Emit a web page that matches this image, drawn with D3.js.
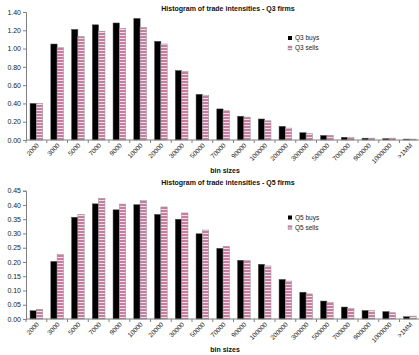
<!DOCTYPE html>
<html>
<head>
<meta charset="utf-8">
<script src="https://cdn.jsdelivr.net/npm/d3@7/dist/d3.min.js"></script>
<style>
  html, body { margin: 0; padding: 0; background: #fff; }
  svg { display: block; font-family: "Liberation Sans", Arial, sans-serif; }
</style>
</head>
<body>
<svg id="chart" width="419" height="355"></svg>
<script>
const categories = ["2000","3000","5000","7000","9000","10000","20000","30000","50000","70000","90000","100000","200000","300000","500000","700000","900000","1000000",">1MM"];
const q3Buys  = [0.40,1.05,1.21,1.26,1.28,1.33,1.08,0.76,0.50,0.34,0.26,0.23,0.15,0.08,0.05,0.03,0.02,0.015,0.01];
const q3Sells = [0.40,1.01,1.13,1.19,1.22,1.23,1.05,0.75,0.49,0.32,0.25,0.21,0.13,0.07,0.05,0.03,0.02,0.02,0.01];
const q5Buys  = [0.029,0.202,0.357,0.404,0.383,0.401,0.367,0.350,0.299,0.248,0.206,0.192,0.139,0.094,0.063,0.042,0.030,0.026,0.008];
const q5Sells = [0.034,0.227,0.367,0.423,0.403,0.415,0.393,0.372,0.312,0.255,0.206,0.186,0.133,0.088,0.058,0.037,0.029,0.022,0.010];
const q3Ticks = [0,0.2,0.4,0.6,0.8,1.0,1.2,1.4];
const q5Ticks = [0,0.05,0.1,0.15,0.2,0.25,0.3,0.35,0.4,0.45];

const svg = d3.select("#chart");
const defs = svg.append("defs");
const pat = defs.append("pattern").attr("id","pinkStripe")
  .attr("patternUnits","userSpaceOnUse").attr("width",4).attr("height",3);
pat.append("rect").attr("width",4).attr("height",3).attr("fill","#c67d9f");
pat.append("rect").attr("y",2).attr("width",4).attr("height",1).attr("fill","#f3dde8");

function drawChart(cfg) {
  const g = svg.append("g");
  const x = d3.scaleBand().domain(categories)
    .range([26, 26 + categories.length * 20.75])
    .paddingInner(0.39).paddingOuter(0.195);
  const x1 = d3.scaleBand().domain(["buys","sells"]).range([0, x.bandwidth()]);
  const y = d3.scaleLinear().domain([0, cfg.max]).range([cfg.y0, cfg.y1]);
  const halfGap = x.step() * 0.195;

  // title
  g.append("text").attr("x", 228).attr("y", cfg.titleY)
    .attr("text-anchor","middle").attr("font-size", 7).attr("font-weight","bold")
    .attr("fill","#111").text(cfg.title);

  // y axis
  const yAxis = d3.axisLeft(y).tickValues(cfg.ticks).tickSize(3).tickPadding(2)
    .tickFormat(d3.format(".2f"));
  const ya = g.append("g").attr("transform","translate(26,0)").call(yAxis);
  ya.select(".domain").attr("stroke","#808080");
  ya.selectAll(".tick line").attr("stroke","#808080");
  ya.selectAll(".tick text").attr("font-size", 7).attr("fill","#222")
    .attr("font-family","Liberation Sans, Arial, sans-serif");

  // bars
  const grp = g.append("g").selectAll("g").data(categories).join("g")
    .attr("transform", d => `translate(${x(d)},0)`);
  grp.append("rect")
    .attr("x", x1("buys")).attr("width", x1.bandwidth())
    .attr("y", (d,i) => y(cfg.buys[i])).attr("height", (d,i) => y(0) - y(cfg.buys[i]))
    .attr("fill","#000").attr("stroke","#555").attr("stroke-width",0.5);
  grp.append("rect")
    .attr("x", x1("sells")).attr("width", x1.bandwidth())
    .attr("y", (d,i) => y(cfg.sells[i])).attr("height", (d,i) => y(0) - y(cfg.sells[i]))
    .attr("fill","url(#pinkStripe)").attr("stroke","#999").attr("stroke-width",0.6);

  // x axis
  const xr = x.range();
  g.append("line").attr("x1", xr[0]).attr("x2", xr[1])
    .attr("y1", y(0)).attr("y2", y(0)).attr("stroke","#808080");
  g.append("g").selectAll("line").data(categories).join("line")
    .attr("x1", d => x(d) - halfGap).attr("x2", d => x(d) - halfGap)
    .attr("y1", y(0)).attr("y2", y(0) + 3).attr("stroke","#808080");
  g.append("g").selectAll("text").data(categories).join("text")
    .attr("transform", d => `translate(${x(d) + x.bandwidth()/2 + 3},${y(0) + 6}) rotate(-45)`)
    .attr("text-anchor","end").attr("font-size", 6.5).attr("fill","#222")
    .text(d => d);

  g.append("text").attr("x", 225).attr("y", cfg.xTitleY)
    .attr("text-anchor","middle").attr("font-size", 7).attr("font-weight","bold")
    .attr("fill","#111").text("bin sizes");

  // legend
  const lg = g.append("g").attr("transform", `translate(288,${cfg.legY})`);
  lg.append("rect").attr("x",0).attr("y",-4).attr("width",4).attr("height",4).attr("fill","#000");
  lg.append("text").attr("x",7).attr("y",0).attr("font-size",6.5).attr("fill","#222").text(cfg.name + " buys");
  lg.append("rect").attr("x",0).attr("y",6).attr("width",4).attr("height",4)
    .attr("fill","url(#pinkStripe)").attr("stroke","#999").attr("stroke-width",0.4);
  lg.append("text").attr("x",7).attr("y",10).attr("font-size",6.5).attr("fill","#222").text(cfg.name + " sells");
}

drawChart({ title: "Histogram of trade intensities - Q3 firms", name: "Q3",
  buys: q3Buys, sells: q3Sells, ticks: q3Ticks, max: 1.4,
  y0: 140, y1: 12, titleY: 11, xTitleY: 173, legY: 40 });
drawChart({ title: "Histogram of trade intensities - Q5 firms", name: "Q5",
  buys: q5Buys, sells: q5Sells, ticks: q5Ticks, max: 0.45,
  y0: 319, y1: 190.7, titleY: 185, xTitleY: 352, legY: 219.5 });
</script>
</body>
</html>
